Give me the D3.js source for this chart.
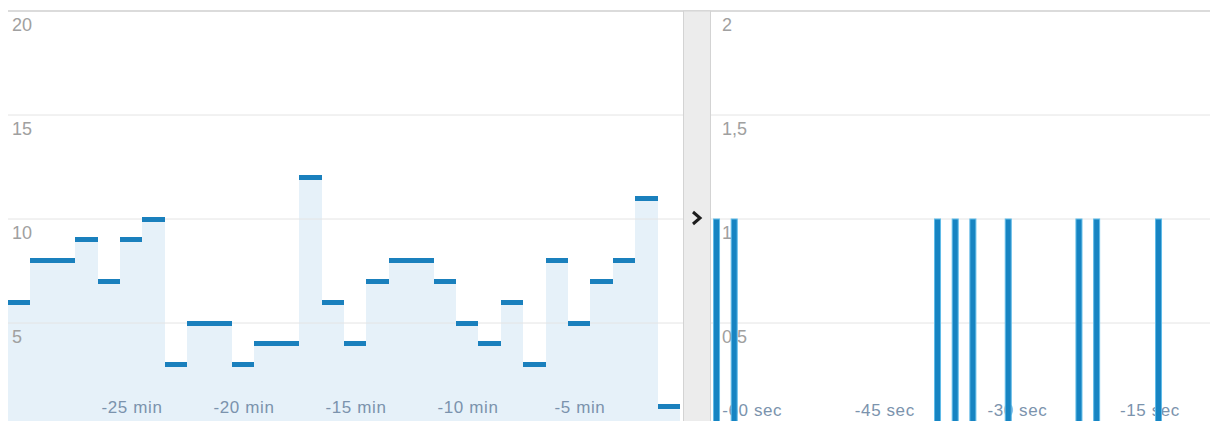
<!DOCTYPE html>
<html>
<head>
<meta charset="utf-8">
<script src="https://cdn.jsdelivr.net/npm/d3@7"></script>
<style>
    body { margin: 0; background: #fff; }
    svg { display: block; font-family: "Liberation Sans", Arial, sans-serif; }
</style>
</head>
<body>
<svg id="chart" width="1210" height="421"></svg>
<script>
// last 30 minutes, one value per minute
const minuteValues = [6, 8, 8, 9, 7, 9, 10, 3, 5, 5, 3, 4, 4, 12, 6, 4, 7, 8, 8, 7, 5, 4, 6, 3, 8, 5, 7, 8, 11, 1];
const minuteTicks = [-25, -20, -15, -10, -5];
const minuteTickLabels = ["-25 min", "-20 min", "-15 min", "-10 min", "-5 min"];
const minuteGrid = [5, 10, 15, 20];
const minuteGridLabels = ["5", "10", "15", "20"];

// last 60 seconds
const secondTimes = [-62, -60, -37, -35, -33, -29, -21, -19, -12];
const secondValues = [1, 1, 1, 1, 1, 1, 1, 1, 1];
const secondTicks = [-60, -45, -30, -15];
const secondTickLabels = ["-60 sec", "-45 sec", "-30 sec", "-15 sec"];
const secondGrid = [0.5, 1, 1.5, 2];
const secondGridLabels = ["0,5", "1", "1,5", "2"];

const svg = d3.select("#chart");

const capColor = "#1a80bd";
const fillColor = "#e6f1f9";
const gridColor = "#e4e4e4";
const yTextColor = "#a0a0a0";
const xTextColor = "#7b93ad";

// ---- left: minutes ----
const xL = d3.scaleLinear().domain([-30, 0]).range([8, 680]);
const yL = d3.scaleLinear().domain([0, 20]).range([427, 11]);

const minutes = minuteValues.map((v, i) => ({ t: -30 + i, v: v }));
const left = svg.append("g").attr("class", "minutes");

left.selectAll("rect.fill")
    .data(minutes)
    .join("rect")
    .attr("class", "fill")
    .attr("x", d => Math.round(xL(d.t)))
    .attr("width", d => Math.round(xL(d.t + 1)) - Math.round(xL(d.t)))
    .attr("y", d => yL(d.v))
    .attr("height", d => yL(0) - yL(d.v))
    .attr("shape-rendering", "crispEdges")
    .style("fill", fillColor);

left.selectAll("line.grid")
    .data(minuteGrid.slice(0, 3))
    .join("line")
    .attr("class", "grid")
    .attr("x1", xL(-30))
    .attr("x2", 683)
    .attr("y1", d => yL(d))
    .attr("y2", d => yL(d))
    .style("stroke", gridColor);

left.selectAll("text.ylab")
    .data(minuteGrid)
    .join("text")
    .attr("class", "ylab")
    .attr("x", 12)
    .attr("y", d => yL(d) + 20)
    .style("font-size", "18px")
    .style("fill", yTextColor)
    .text((d, i) => minuteGridLabels[i]);

left.selectAll("text.xlab")
    .data(minuteTicks)
    .join("text")
    .attr("class", "xlab")
    .attr("x", d => xL(d) + 12)
    .attr("y", 413)
    .attr("text-anchor", "middle")
    .style("font-size", "17px")
    .style("letter-spacing", "0.6px")
    .style("fill", xTextColor)
    .text((d, i) => minuteTickLabels[i]);

left.selectAll("rect.cap")
    .data(minutes)
    .join("rect")
    .attr("class", "cap")
    .attr("x", d => Math.round(xL(d.t)))
    .attr("width", d => Math.round(xL(d.t + 1)) - Math.round(xL(d.t)))
    .attr("y", d => yL(d.v) - 2.5)
    .attr("height", 5)
    .attr("shape-rendering", "crispEdges")
    .style("fill", capColor);

// ---- right: seconds ----
const xR = d3.scaleLinear().domain([-60, 0]).range([734.2, 734.2 + 60 * 8.84]);
const yR = d3.scaleLinear().domain([0, 2]).range([427, 11]);

const right = svg.append("g").attr("class", "seconds");

right.selectAll("line.grid")
    .data(secondGrid.slice(0, 3))
    .join("line")
    .attr("class", "grid")
    .attr("x1", 711)
    .attr("x2", 1210)
    .attr("y1", d => yR(d))
    .attr("y2", d => yR(d))
    .style("stroke", gridColor);

right.selectAll("text.ylab")
    .data(secondGrid)
    .join("text")
    .attr("class", "ylab")
    .attr("x", 722)
    .attr("y", d => yR(d) + 20)
    .style("font-size", "18px")
    .style("fill", yTextColor)
    .text((d, i) => secondGridLabels[i]);

right.selectAll("text.xlab")
    .data(secondTicks)
    .join("text")
    .attr("class", "xlab")
    .attr("x", d => xR(d) + 18)
    .attr("y", 416)
    .attr("text-anchor", "middle")
    .style("font-size", "17px")
    .style("letter-spacing", "0.6px")
    .style("fill", xTextColor)
    .text((d, i) => secondTickLabels[i]);

right.selectAll("rect.bar")
    .data(secondTimes.map((t, i) => ({ t: t, v: secondValues[i] })))
    .join("rect")
    .attr("class", "bar")
    .attr("x", d => xR(d.t) - 3)
    .attr("width", 6)
    .attr("y", d => yR(d.v))
    .attr("height", d => yR(0) - yR(d.v))
    .style("fill", "#1784c2")
    .style("stroke", "#5fbbe8")
    .style("stroke-width", 1);

// ---- top border + divider ----
svg.append("line")
    .attr("x1", 8)
    .attr("x2", 1210)
    .attr("y1", 11)
    .attr("y2", 11)
    .style("stroke", "#cfcfcf")
    .style("stroke-width", 1.5);

svg.append("rect")
    .attr("x", 683.5)
    .attr("y", 11)
    .attr("width", 27)
    .attr("height", 412)
    .style("fill", "#ececec")
    .style("stroke", "#d3d3d3");

svg.append("path")
    .attr("d", "M693,212 L700,218 L693,224")
    .style("fill", "none")
    .style("stroke", "#1d1d1d")
    .style("stroke-width", 3);
</script>
</body>
</html>
